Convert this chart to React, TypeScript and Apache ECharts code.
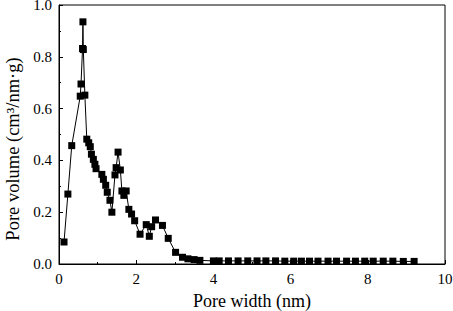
import React, { useEffect, useRef } from "react";
import * as echarts from "echarts";

const poreWidth = [
  0.13, 0.23, 0.33, 0.55, 0.57, 0.61, 0.62, 0.63, 0.67, 0.72, 0.77, 0.81, 0.84, 0.89, 0.93, 0.96,
  1.11, 1.15, 1.21, 1.25, 1.32, 1.37, 1.45, 1.48, 1.53, 1.59, 1.63, 1.68, 1.74, 1.81, 1.88, 1.96,
  2.1, 2.26, 2.34, 2.4, 2.5, 2.68, 2.83, 3.02, 3.2, 3.34, 3.5, 3.65, 4.0, 4.15, 4.39, 4.64, 4.89,
  5.13, 5.36, 5.61, 5.85, 6.08, 6.28, 6.49, 6.71, 6.97, 7.19, 7.45, 7.68, 7.92, 8.14, 8.4, 8.65,
  8.92, 9.2,
];
const poreVolume = [
  0.085, 0.27, 0.457, 0.648, 0.695, 0.832, 0.935, 0.828, 0.652, 0.482, 0.468, 0.453, 0.424, 0.404,
  0.385, 0.368, 0.346, 0.327, 0.304, 0.277, 0.246, 0.2, 0.344, 0.372, 0.432, 0.363, 0.282, 0.265,
  0.282, 0.211, 0.193, 0.167, 0.115, 0.152, 0.107, 0.144, 0.17, 0.149, 0.099, 0.045, 0.026, 0.02,
  0.017, 0.014, 0.012, 0.012, 0.012, 0.012, 0.012, 0.012, 0.012, 0.012, 0.011, 0.011, 0.011, 0.011,
  0.011, 0.011, 0.011, 0.011, 0.011, 0.011, 0.011, 0.011, 0.011, 0.01, 0.01,
];

const xName = "Pore width (nm)";
const yName = "Pore volume (cm³/nm·g)";

export default function App() {
  const ref = useRef<HTMLDivElement>(null);
  useEffect(() => {
    if (!ref.current) return;
    const chart = echarts.init(ref.current, null, { renderer: "svg" });
    const font = "Liberation Serif";
    chart.setOption({
      animation: false,
      backgroundColor: "#fff",
      grid: {
        left: 59,
        right: 8,
        top: 5,
        bottom: 47,
        containLabel: false,
        outerBoundsMode: "none",
        show: true,
        borderColor: "#000",
        borderWidth: 1,
      },
      graphic: [
        {
          type: "text",
          x: 13,
          y: 149,
          rotation: Math.PI / 2,
          style: {
            text: yName,
            fontFamily: font,
            fontSize: 18.5,
            fill: "#000",
            align: "center",
            verticalAlign: "middle",
          },
        },
      ],
      xAxis: {
        type: "value",
        min: 0,
        max: 10,
        interval: 2,
        name: xName,
        nameLocation: "middle",
        nameGap: 28,
        nameTextStyle: { fontFamily: font, fontSize: 18, color: "#000" },
        axisLine: { lineStyle: { color: "#000", width: 1 } },
        axisTick: { inside: true, length: 4, lineStyle: { color: "#000" } },
        minorTick: { show: true, splitNumber: 2, length: 2, lineStyle: { color: "#000" } },
        axisLabel: { fontFamily: font, fontSize: 15, color: "#000", margin: 7 },
        splitLine: { show: false },
      },
      yAxis: {
        type: "value",
        min: 0,
        max: 1,
        interval: 0.2,
        axisLine: { show: true, lineStyle: { color: "#000", width: 1 } },
        axisTick: { inside: true, length: 4, lineStyle: { color: "#000" } },
        minorTick: { show: true, splitNumber: 2, length: 2, lineStyle: { color: "#000" } },
        axisLabel: {
          fontFamily: font,
          fontSize: 15,
          color: "#000",
          margin: 7,
          formatter: (v: number) => v.toFixed(1),
        },
        splitLine: { show: false },
      },
      series: [
        {
          type: "line",
          data: poreWidth.map((x, i) => [x, poreVolume[i]]),
          symbol: "rect",
          symbolSize: 7,
          itemStyle: { color: "#000" },
          lineStyle: { color: "#000", width: 1 },
        },
      ],
    });
    return () => chart.dispose();
  }, []);
  return <div ref={ref} style={{ width: 453, height: 311, position: "absolute", left: 0, top: 0 }} />;
}
